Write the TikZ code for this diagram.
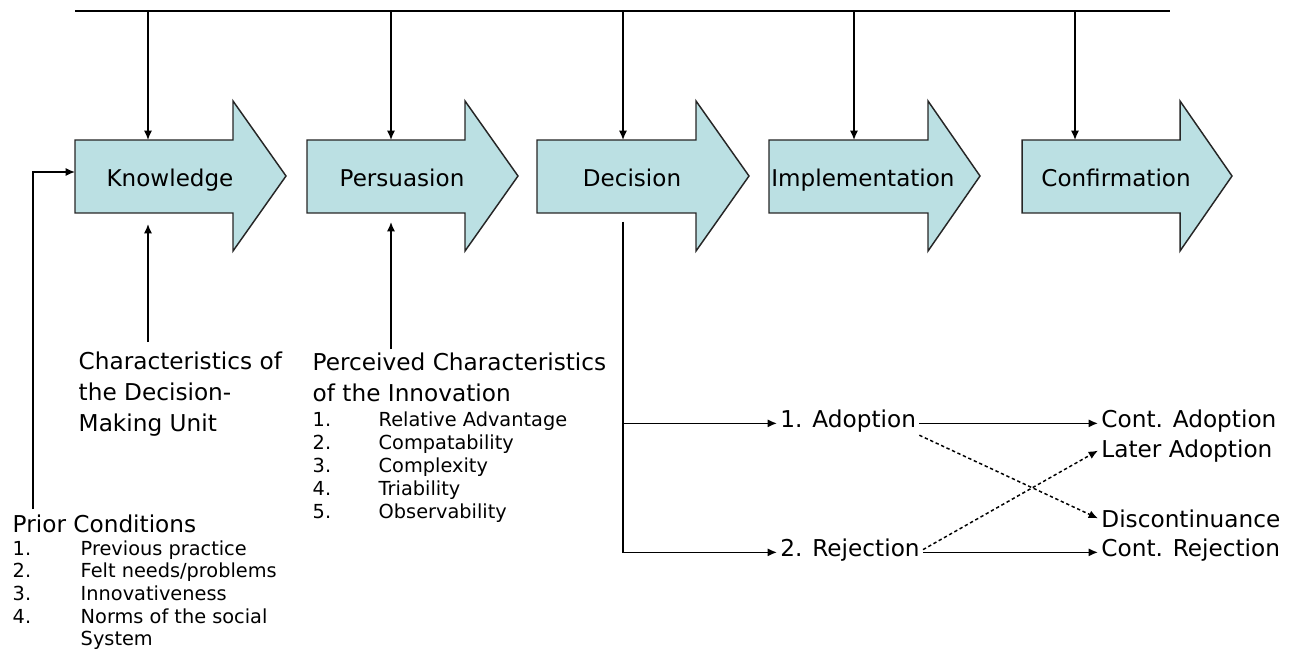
\documentclass[tikz,border=0pt]{standalone}
\usepackage{fontspec}
\setmainfont{DejaVu Sans}
\usetikzlibrary{arrows.meta}

\definecolor{stagefill}{RGB}{187,224,227}
\tikzset{every picture/.style={line width=1.1pt}}
\tikzset{
  stage/.style={draw=black!85, fill=stagefill, line width=1.1pt, line join=miter},
  stagelabel/.style={inner sep=0pt, font=\fontsize{17.3}{22}\selectfont},
  conn/.style={-{Latex[length=7pt,width=6pt]}},
  dotconn/.style={conn, dash pattern=on 2.5pt off 2pt},
  txt/.style={inner sep=0pt, align=left, font=\fontsize{17.4}{23.25}\selectfont},
  listtxt/.style={inner sep=0pt, align=left, font=\fontsize{14.5}{17.3}\selectfont},
  priortxt/.style={listtxt, font=\fontsize{14.5}{16.9}\selectfont},
  outcome/.style={inner sep=2pt, font=\fontsize{17.4}{22}\selectfont}
}

\begin{document}
\begin{tikzpicture}[x=0.75pt,y=0.75pt,yscale=-1,xscale=1]
	\path[use as bounding box] (0,0) rectangle (1294,652);
	
	%Shape: Right Arrow [Knowledge]
	\draw[stage] (75,140) -- (233,140) -- (233,101) -- (286,176) -- (233,251) -- (233,213) -- (75,213) -- cycle ;
	%Shape: Right Arrow [Persuasion]
	\draw[stage] (307,140) -- (465,140) -- (465,101) -- (518,176) -- (465,251) -- (465,213) -- (307,213) -- cycle ;
	%Shape: Right Arrow [Decision]
	\draw[stage] (537,140) -- (696,140) -- (696,101) -- (749,176) -- (696,251) -- (696,213) -- (537,213) -- cycle ;
	%Shape: Right Arrow [Implementation]
	\draw[stage] (769,140) -- (928,140) -- (928,101) -- (980,176) -- (928,251) -- (928,213) -- (769,213) -- cycle ;
	%Shape: Right Arrow [Confirmation]
	\draw[stage] (1022,140) -- (1180,140) -- (1180,101) -- (1232,176) -- (1180,251) -- (1180,213) -- (1022,213) -- cycle ;
	
	% Text Node
	\node[stagelabel, anchor=base] (know) at (170,187) {Knowledge};
	% Text Node
	\node[stagelabel, anchor=base] (pers) at (402,187) {Persuasion};
	% Text Node
	\node[stagelabel, anchor=base] (dec) at (632,187) {Decision};
	% Text Node
	\node[stagelabel, anchor=base] (impl) at (863,187) {Implementation};
	% Text Node
	\node[stagelabel, anchor=base] (conf) at (1116,187) {Confirmation};
	
	%Straight Lines [top bus]
	\coordinate (busL) at (75,11);
	\coordinate (busR) at (1170,11);
	\draw (busL) -- (busR);
	
	% inputs from the bus
	\coordinate (knowIn) at (148,140);
	\coordinate (persIn) at (391,140);
	\coordinate (decIn) at (623,140);
	\coordinate (implIn) at (854,140);
	\coordinate (confIn) at (1075,140);
	\draw[conn] (knowIn |- busL) -- (knowIn);
	\draw[conn] (persIn |- busL) -- (persIn);
	\draw[conn] (decIn |- busL) -- (decIn);
	\draw[conn] (implIn |- busL) -- (implIn);
	\draw[conn] (confIn |- busL) -- (confIn);
	
	% Text Node
	\node[txt, anchor=north west] (dmu) at (78,351) {Characteristics of\\the Decision-\\Making Unit};
	\coordinate (dmuOut) at (148,342);
	\coordinate (knowUp) at (148,224);
	\draw[conn] (dmuOut) -- (knowUp);
	
	% Text Node
	\node[txt, anchor=north west] (innov) at (312,352) {Perceived Characteristics\\of the Innovation};
	% Text Node
	\node[listtxt, anchor=north west] (innovList) at (312,411) {\makebox[49.5pt][l]{1.}Relative Advantage\\\makebox[49.5pt][l]{2.}Compatability\\\makebox[49.5pt][l]{3.}Complexity\\\makebox[49.5pt][l]{4.}Triability\\\makebox[49.5pt][l]{5.}Observability};
	\coordinate (innovOut) at (391,349);
	\coordinate (persUp) at (391,222);
	\draw[conn] (innovOut) -- (persUp);
	
	% Text Node
	\node[txt, anchor=north west] (prior) at (12,514) {Prior Conditions};
	% Text Node
	\node[priortxt, anchor=north west] (priorList) at (12,540) {\makebox[51pt][l]{1.}Previous practice\\\makebox[51pt][l]{2.}Felt needs/problems\\\makebox[51pt][l]{3.}Innovativeness\\\makebox[51pt][l]{4.}Norms of the social\\\makebox[51pt][l]{}System};
	\coordinate (priorOut) at (33,509);
	\coordinate (knowLeft) at (75,172);
	\draw[conn] (priorOut) |- (knowLeft);
	
	% outcomes of the decision
	\node[outcome, anchor=base west] (adopt) at (777,427) {1. Adoption};
	\node[outcome, anchor=base west] (rej) at (777,556) {2. Rejection};
	\node[outcome, anchor=base west] (contAdopt) at (1098,427) {Cont. Adoption};
	\node[outcome, anchor=base west] (later) at (1098,457) {Later Adoption};
	\node[outcome, anchor=base west] (discont) at (1098,527) {Discontinuance};
	\node[outcome, anchor=base west] (contRej) at (1098,556) {Cont. Rejection};
	
	\coordinate (decOut) at (623,222);
	\draw[conn] (decOut) |- (adopt.mid west);
	\draw[conn] (decOut) |- (rej.mid west);
	\draw[conn] (adopt.mid east) -- (contAdopt.mid west);
	\draw[conn] (rej.mid east) -- (contRej.mid west);
	\draw[dotconn] (adopt.south east) -- (discont.west);
	\draw[dotconn] (rej.east) -- (later.west);
	
\end{tikzpicture}
\end{document}
